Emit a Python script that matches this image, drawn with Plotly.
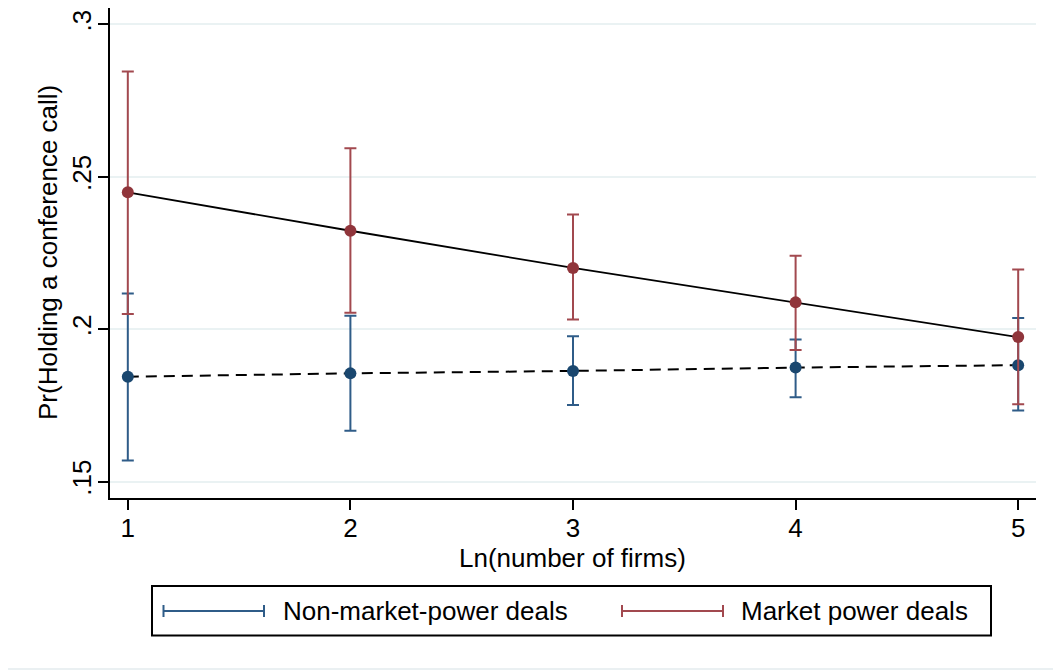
import plotly.graph_objects as go

# ---- data ----
x_vals = [1, 2, 3, 4, 5]
x_ticklabels = ["1", "2", "3", "4", "5"]
y_tickvals = [0.15, 0.20, 0.25, 0.30]
y_ticklabels = [".15", ".2", ".25", ".3"]

non_mp_est = [0.1844, 0.1855, 0.1863, 0.1874, 0.1882]
non_mp_lo = [0.1569, 0.1667, 0.1751, 0.1777, 0.1733]
non_mp_hi = [0.2117, 0.2044, 0.1977, 0.1966, 0.2037]

mp_est = [0.2449, 0.2323, 0.2201, 0.2088, 0.1974]
mp_lo = [0.2050, 0.2054, 0.2032, 0.1932, 0.1754]
mp_hi = [0.2846, 0.2594, 0.2376, 0.2241, 0.2196]

series_names = ["Non-market-power deals", "Market power deals"]
x_title = "Ln(number of firms)"
y_title = "Pr(Holding a conference call)"

# ---- style ----
OFF = 8  # page body margin offset of the html page
W, H = 1061 - OFF, 671 - OFF
PL, PR, PT, PB = 110, 1036, 8, 498   # plot area in screen pixels
ML, MT = PL - OFF, PT - OFF
PW, PH = PR - PL, PB - PT
MR, MB = W - ML - PW, H - MT - PH
FONT = "Liberation Sans, Arial, sans-serif"
BLUE, BLUE_CI = "#1a476f", "#2f5c88"
RED, RED_CI = "#90353b", "#a2494f"


def px_x(p):
    return (p - PL) / PW


def px_y(p):
    return (PB - p) / PH


fig = go.Figure()

# connecting lines
fig.add_trace(go.Scatter(x=x_vals, y=non_mp_est, mode="lines",
                         line=dict(color="black", width=2, dash="11px,7px"),
                         showlegend=False, hoverinfo="skip"))
fig.add_trace(go.Scatter(x=x_vals, y=mp_est, mode="lines",
                         line=dict(color="black", width=1.8),
                         showlegend=False, hoverinfo="skip"))

# CI + markers
for est, lo, hi, col, cicol, name in [
    (non_mp_est, non_mp_lo, non_mp_hi, BLUE, BLUE_CI, series_names[0]),
    (mp_est, mp_lo, mp_hi, RED, RED_CI, series_names[1]),
]:
    fig.add_trace(go.Scatter(
        x=x_vals, y=est, mode="markers", name=name,
        marker=dict(color=col, size=12),
        error_y=dict(type="data", symmetric=False,
                     array=[h - e for h, e in zip(hi, est)],
                     arrayminus=[e - l for e, l in zip(est, lo)],
                     color=cicol, thickness=2, width=6),
        showlegend=False))

shapes = []
annotations = []

# manual legend box
shapes.append(dict(type="rect", xref="paper", yref="paper",
                   x0=px_x(152), x1=px_x(991), y0=px_y(586), y1=px_y(635.5),
                   line=dict(color="black", width=2), fillcolor="white"))
cap = 6
for (x0, x1, col, tx, name) in [
    (163.5, 264, BLUE_CI, 281, series_names[0]),
    (622, 723, RED_CI, 739, series_names[1]),
]:
    yc = 611
    shapes.append(dict(type="line", xref="paper", yref="paper",
                       x0=px_x(x0), x1=px_x(x1), y0=px_y(yc), y1=px_y(yc),
                       line=dict(color=col, width=2)))
    for xx in (x0, x1):
        shapes.append(dict(type="line", xref="paper", yref="paper",
                           x0=px_x(xx), x1=px_x(xx),
                           y0=px_y(yc - cap), y1=px_y(yc + cap),
                           line=dict(color=col, width=2)))
    annotations.append(dict(xref="paper", yref="paper", x=px_x(tx), y=px_y(yc),
                            xanchor="left", yanchor="middle", showarrow=False,
                            text=name, font=dict(family=FONT, size=26, color="black")))

# axis titles
annotations.append(dict(xref="paper", yref="paper", x=px_x(572), y=px_y(558),
                        xanchor="center", yanchor="middle", showarrow=False,
                        text=x_title, font=dict(family=FONT, size=26, color="black")))
annotations.append(dict(xref="paper", yref="paper", x=px_x(48), y=px_y(253),
                        xanchor="center", yanchor="middle", showarrow=False,
                        textangle=-90,
                        text=y_title, font=dict(family=FONT, size=26, color="black")))

# faint outer frame
shapes.append(dict(type="rect", xref="paper", yref="paper", layer="below",
                   x0=px_x(6.5), x1=px_x(1060), y0=px_y(669), y1=px_y(OFF - 2),
                   line=dict(color="#e3ecee", width=1.5)))

fig.update_layout(
    width=W, height=H,
    margin=dict(l=ML, r=MR, t=MT, b=MB, autoexpand=False),
    paper_bgcolor="white", plot_bgcolor="white",
    font=dict(family=FONT, size=26, color="black"),
    showlegend=False,
    shapes=shapes, annotations=annotations,
    xaxis=dict(range=[0.92, 5.08], tickvals=x_vals, ticktext=x_ticklabels,
               showgrid=False, zeroline=False, showline=True,
               linecolor="black", linewidth=2, ticks="outside", ticklen=10,
               tickwidth=2, tickcolor="black", ticklabelstandoff=-4,
               tickfont=dict(family=FONT, size=26)),
    yaxis=dict(range=[0.1446, 0.3054], tickvals=y_tickvals, ticktext=y_ticklabels,
               tickangle=-90, showgrid=True, gridcolor="#eaf2f3", gridwidth=2,
               zeroline=False, showline=True, linecolor="black", linewidth=2,
               ticks="outside", ticklen=10, tickwidth=2, tickcolor="black",
               ticklabelstandoff=-3,
               tickfont=dict(family=FONT, size=26)),
)

fig.write_html("out.html")
